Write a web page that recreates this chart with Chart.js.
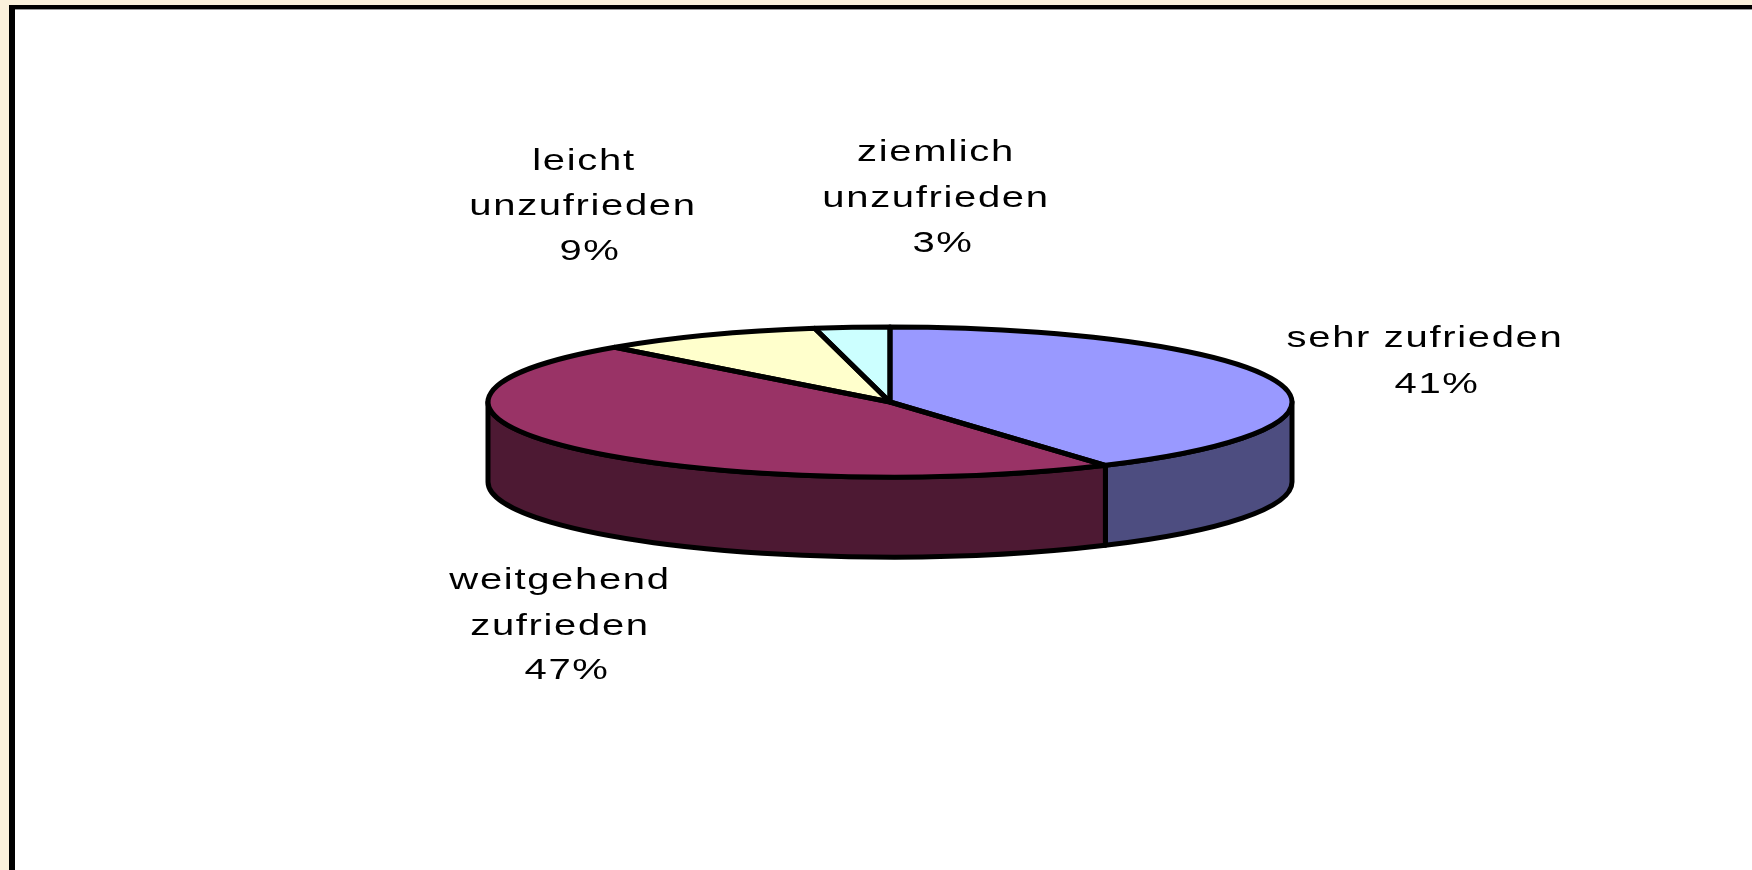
<!DOCTYPE html>
<html lang="de">
<head>
<meta charset="utf-8">
<title>Zufriedenheit</title>
<script src="https://cdn.jsdelivr.net/npm/chart.js@4"></script>
<style>
    html, body { margin: 0; padding: 0; width: 1752px; height: 870px; overflow: hidden; background: #fbf1dc; }
    #frame {
        position: absolute; left: 9px; top: 5px; right: 0; bottom: 0;
        background: #fff; border-left: 6px solid #000; border-top: 4px solid #000;
        box-shadow: inset 0 1px 0 #999;
    }
    #chart { position: absolute; left: 0; top: 0; }
</style>
</head>
<body>
<div id="frame"></div>
<canvas id="chart" width="1752" height="870"></canvas>
<script>
// Values
const categories = ['sehr zufrieden', 'weitgehend zufrieden', 'leicht unzufrieden', 'ziemlich unzufrieden'];
const shares = [41, 47, 9, 3];
const topColors = ['#9999ff', '#993366', '#ffffcc', '#ccffff'];
const sideColors = ['#4d4d80', '#4d1933', '#80801a', '#1a8080'];

// Text lines and their centre positions on the page
const labelLines = [
    ['sehr zufrieden', 1425, 339], ['41%', 1437, 385],
    ['weitgehend', 560, 581], ['zufrieden', 560, 627], ['47%', 567, 671],
    ['leicht', 584, 162], ['unzufrieden', 583, 207], ['9%', 590, 252],
    ['ziemlich', 936, 153], ['unzufrieden', 936, 199], ['3%', 943, 244]
];

// Tilt of the pie and height of the wall
const tilt = 75 / 402;
const wallHeight = 80;

function arcPath(ctx, arc, a0, a1, dy) {
    ctx.ellipse(arc.x, arc.y + dy, arc.outerRadius, arc.outerRadius * tilt, 0, a0, a1);
}

const pie3d = {
    id: 'pie3d',
    // Wall below the slices, only the part that faces the viewer
    beforeDatasetsDraw(chart) {
        const ctx = chart.ctx;
        chart.getDatasetMeta(0).data.forEach(function(arc, i) {
            const a0 = Math.max(arc.startAngle, 0);
            const a1 = Math.min(arc.endAngle, Math.PI);
            if (a1 <= a0) return;
            ctx.save();
            ctx.beginPath();
            arcPath(ctx, arc, a0, a1, wallHeight);
            ctx.ellipse(arc.x, arc.y, arc.outerRadius, arc.outerRadius * tilt, 0, a1, a0, true);
            ctx.closePath();
            ctx.fillStyle = sideColors[i];
            ctx.fill();
            ctx.lineWidth = 5;
            ctx.lineJoin = 'round';
            ctx.strokeStyle = '#000';
            ctx.stroke();
            ctx.restore();
        });
        // Squash the library's pie into an ellipse
        const first = chart.getDatasetMeta(0).data[0];
        ctx.save();
        ctx.translate(0, first.y);
        ctx.scale(1, tilt);
        ctx.translate(0, -first.y);
    },
    afterDatasetsDraw(chart) {
        const ctx = chart.ctx;
        ctx.restore();
        // Outlines drawn without the squash so the line keeps its width
        chart.getDatasetMeta(0).data.forEach(function(arc) {
            ctx.save();
            ctx.beginPath();
            ctx.moveTo(arc.x, arc.y);
            arcPath(ctx, arc, arc.startAngle, arc.endAngle, 0);
            ctx.closePath();
            ctx.lineWidth = 5;
            ctx.lineJoin = 'round';
            ctx.strokeStyle = '#000';
            ctx.stroke();
            ctx.restore();
        });
    },
    afterDraw(chart) {
        const ctx = chart.ctx;
        ctx.save();
        ctx.font = '29px "Liberation Sans"';
        ctx.fillStyle = '#000';
        ctx.textAlign = 'center';
        ctx.textBaseline = 'middle';
        ctx.letterSpacing = '1.2px';
        labelLines.forEach(function(line) {
            ctx.save();
            ctx.translate(line[1], line[2]);
            ctx.scale(1.38, 1);
            ctx.fillText(line[0], 0, 0);
            ctx.restore();
        });
        ctx.restore();
    }
};

new Chart(document.getElementById('chart'), {
    type: 'pie',
    data: {
        labels: categories,
        datasets: [{
            data: shares,
            backgroundColor: topColors,
            borderWidth: 0
        }]
    },
    options: {
        responsive: false,
        animation: false,
        layout: { padding: { left: 488, right: 460, top: 0, bottom: 66 } },
        plugins: {
            legend: { display: false },
            tooltip: { enabled: false }
        }
    },
    plugins: [pie3d]
});
</script>
</body>
</html>
